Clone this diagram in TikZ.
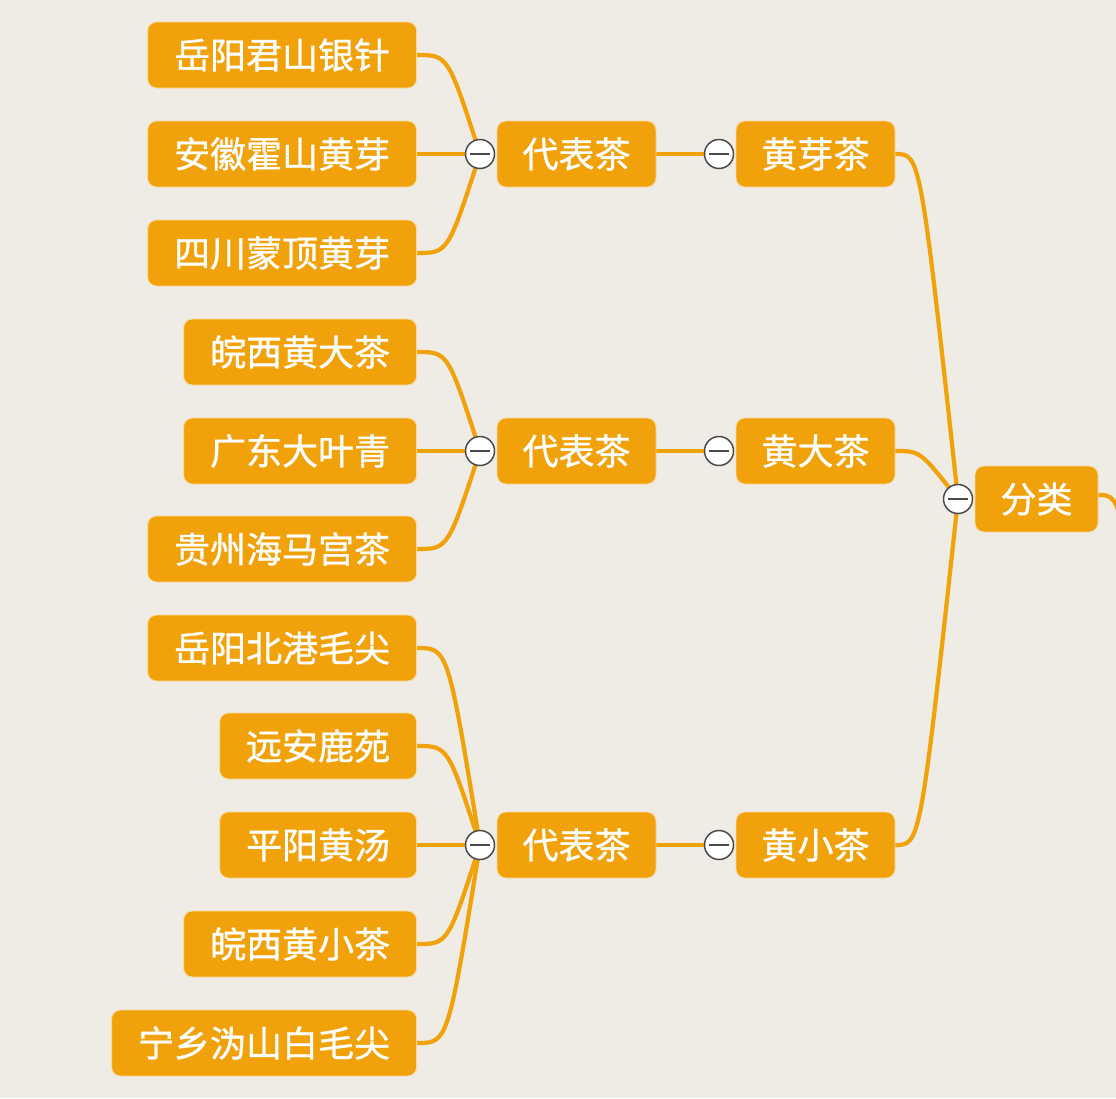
\documentclass[tikz,border=0pt]{standalone}
\usepackage{fontspec}
\newfontfamily\cjk[FakeBold=0.9]{Noto Sans CJK SC}
\usetikzlibrary{calc}
\definecolor{paper}{HTML}{EFEBE5}
\definecolor{tea}{HTML}{F1A20B}
\definecolor{btn}{HTML}{4A4A4A}
\pgfdeclarelayer{bg}
\pgfdeclarelayer{lines}
\pgfsetlayers{bg,lines,main}
\tikzset{
  box/.style={fill=tea, draw=tea!40!white, line width=0.8pt, rounded corners=9pt,
    minimum height=66pt, inner xsep=26.5pt, inner ysep=0pt, text=white,
    font=\cjk\fontsize{36}{36}\selectfont},
  leaf/.style={box, anchor=east},
  fixbox/.style={box, minimum width=159pt, inner xsep=0pt},
  btnc/.style={circle, fill=white, draw=btn, line width=1.5pt, minimum size=29pt, inner sep=0pt,
    path picture={\draw[btn, line width=1.5pt] ([xshift=-10pt]path picture bounding box.center) -- ([xshift=10pt]path picture bounding box.center);}},
  link/.style={draw=tea, line width=4.2pt, line cap=round},
}
\begin{document}
\begin{tikzpicture}[x=1pt,y=-1pt]
\begin{pgfonlayer}{bg}
\fill[paper] (0,0) rectangle (1116,1098);
\end{pgfonlayer}
\useasboundingbox (0,0) rectangle (1116,1098);
% leaves
\node[leaf] (l1) at (417,55) {岳阳君山银针};
\node[leaf] (l2) at (417,154) {安徽霍山黄芽};
\node[leaf] (l3) at (417,253) {四川蒙顶黄芽};
\node[leaf] (l4) at (417,352) {皖西黄大茶};
\node[leaf] (l5) at (417,451) {广东大叶青};
\node[leaf] (l6) at (417,549) {贵州海马宫茶};
\node[leaf] (l7) at (417,648) {岳阳北港毛尖};
\node[leaf] (l8) at (417,746) {远安鹿苑};
\node[leaf] (l9) at (417,845) {平阳黄汤};
\node[leaf] (l10) at (417,944) {皖西黄小茶};
\node[leaf] (l11) at (417,1043) {宁乡沩山白毛尖};
% representative
\node[fixbox] (r1) at (576.5,154) {代表茶};
\node[fixbox] (r2) at (576.5,451) {代表茶};
\node[fixbox] (r3) at (576.5,845) {代表茶};
% types
\node[fixbox] (t1) at (815.5,154) {黄芽茶};
\node[fixbox] (t2) at (815.5,451) {黄大茶};
\node[fixbox] (t3) at (815.5,845) {黄小茶};
% root
\node[box, minimum width=123pt, inner xsep=0pt] (root) at (1036.5,499) {分类};
% buttons
\node[btnc] (b1) at (480,154) {};
\node[btnc] (b2) at (480,451) {};
\node[btnc] (b3) at (480,845) {};
\node[btnc] (bt1) at (719,154) {};
\node[btnc] (bt2) at (719,451) {};
\node[btnc] (bt3) at (719,845) {};
\node[btnc] (broot) at (958,499) {};
\coordinate (exit) at (1161,848);
\begin{pgfonlayer}{lines}
\foreach \l in {l1,l2,l3} \draw[link] (\l.east) .. controls ($(\l.east)+(31,0)$) .. (b1.center);
\foreach \l in {l4,l5,l6} \draw[link] (\l.east) .. controls ($(\l.east)+(31,0)$) .. (b2.center);
\foreach \l in {l7,l8,l9,l10,l11} \draw[link] (\l.east) .. controls ($(\l.east)+(31,0)$) .. (b3.center);
\draw[link] (r1.east) -- (bt1.center);
\draw[link] (r2.east) -- (bt2.center);
\draw[link] (r3.east) -- (bt3.center);
\foreach \t in {t1,t2,t3} \draw[link] (\t.east) .. controls ($(\t.east)+(25,0)$) .. (broot.center);
\draw[link] ([yshift=4pt]root.east) .. controls ($([yshift=4pt]root.east)+(25,0)$) .. (exit);
\end{pgfonlayer}
\end{tikzpicture}
\end{document}
